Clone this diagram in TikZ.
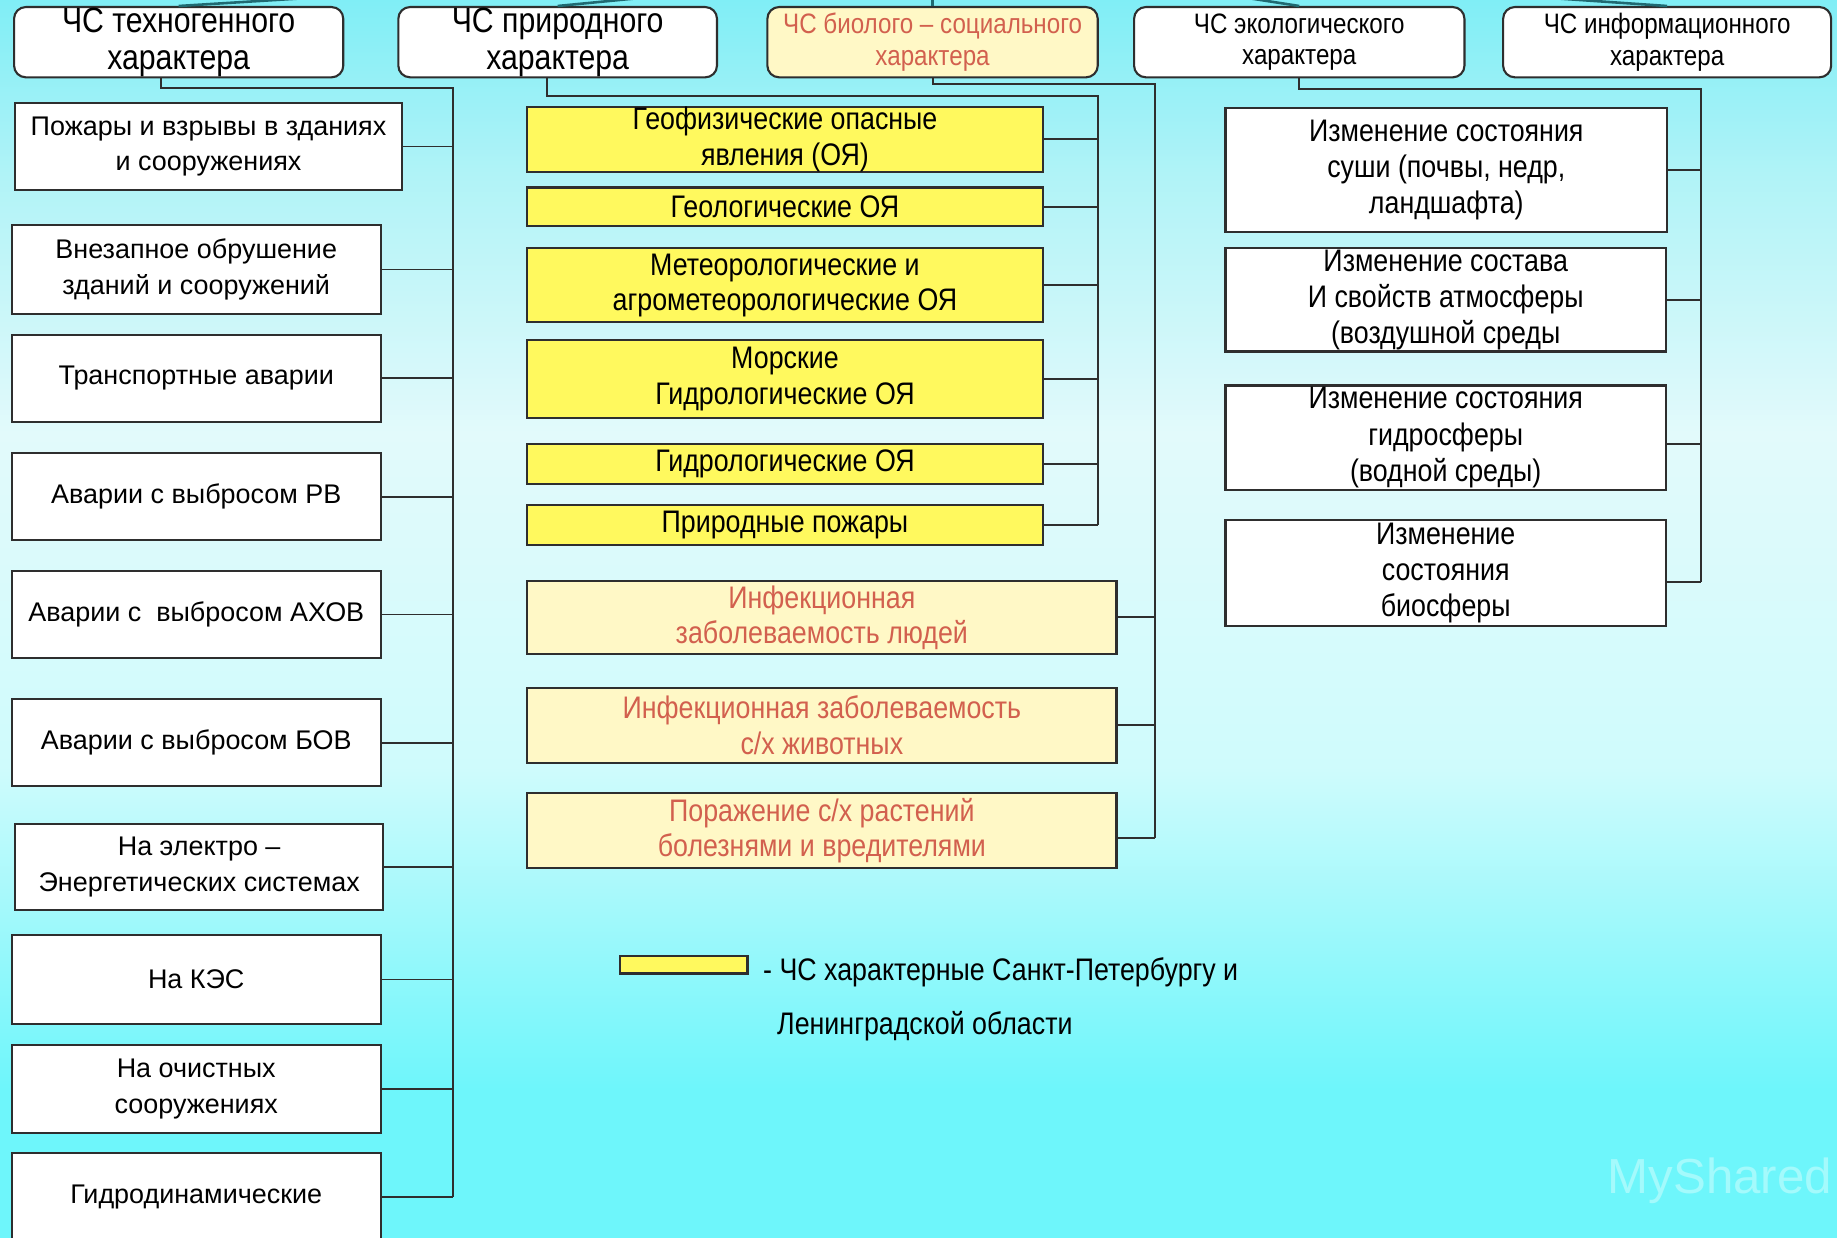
\documentclass[tikz,border=0pt]{standalone}
\usepackage{fontspec}
\setmainfont{Liberation Sans}
\newfontfamily\nf[FakeStretch=0.86]{Liberation Sans}
\definecolor{bord}{HTML}{2E2E2E}
\definecolor{yel}{HTML}{FFF95E}
\definecolor{lyel}{HTML}{FFF8C6}
\definecolor{redtxt}{HTML}{D2604E}
\definecolor{upline}{HTML}{1F6A72}
\definecolor{bgtop}{HTML}{80EEF6}
\definecolor{bgtopb}{HTML}{B0F3F7}
\definecolor{bgmid}{HTML}{E2FAFB}
\definecolor{bgmidb}{HTML}{CFFBFC}
\definecolor{bgbotb}{HTML}{92F8FB}
\definecolor{bgbot}{HTML}{6EF6FB}
\definecolor{wmark}{HTML}{A4FAFC}
\pgfdeclareverticalshading{bgsh}{100bp}{color(0bp)=(bgbot); color(25bp)=(bgbot); color(31bp)=(bgbot); color(36bp)=(bgbotb); color(44bp)=(bgmidb); color(57.5bp)=(bgmid); color(68bp)=(bgtopb); color(75bp)=(bgtop); color(100bp)=(bgtop)}
\newcommand{\ftbig}{\nf\fontsize{15}{16}\selectfont}
\newcommand{\ftsmall}{\nf\fontsize{12}{13.5}\selectfont}
\newcommand{\ftleft}{\fontsize{11.5}{15}\selectfont}
\newcommand{\ftmid}{\nf\fontsize{13.3}{15}\selectfont}
\newcommand{\ftright}{\nf\fontsize{13.3}{15.5}\selectfont}
\tikzset{
  box/.style={draw=bord, line width=0.9pt, inner sep=0pt, align=center, fill=white},
  topbox/.style={box, rounded corners=5pt},
  lbox/.style={box, font=\ftleft},
  ybox/.style={box, fill=yel, font=\ftmid},
  bbox/.style={box, fill=lyel, text=redtxt, font=\ftmid},
  rbox/.style={box, font=\ftright},
  conn/.style={draw=bord, line width=0.8pt},
  upl/.style={draw=upline, line width=1.1pt}
}
\begin{document}
\begin{tikzpicture}[x=0.5pt,y=-0.5pt]
\useasboundingbox (0,0) rectangle (1568,1056);
\begin{scope}
\clip (0,0) rectangle (1568,1056);
\shade[shading=bgsh] (0,0) rectangle (1568,1056);
\node[font=\fontsize{21}{24}\selectfont, text=wmark, anchor=west, inner sep=0pt] (wm) at (1372,1008) {MyShared};

% top boxes
\node[topbox, minimum width=140.5pt, minimum height=30pt, font=\ftbig] (t1) at (152.5,36) {ЧС техногенного\\характера};
\node[topbox, minimum width=136pt, minimum height=30pt, font=\ftbig] (t2) at (476,36) {ЧС природного\\характера};
\node[topbox, minimum width=141pt, minimum height=30pt, font=\ftsmall, fill=lyel, text=redtxt] (t3) at (796,36) {ЧС биолого – социального\\характера};
\node[topbox, minimum width=141pt, minimum height=30pt, font=\ftsmall] (t4) at (1109,36) {ЧС экологического\\характера};
\node[topbox, minimum width=140pt, minimum height=30pt, font=\ftsmall] (t5) at (1423,36) {ЧС информационного\\характера};

\coordinate (u1) at (300,-4);
\coordinate (u2) at (570,-4);
\coordinate (u3) at (796,-10);
\coordinate (u4) at (1050,-4);
\coordinate (u5) at (1290,-4);
\draw[upl] (t1.north) -- (u1);
\draw[upl] (t2.north) -- (u2);
\draw[upl] (t3.north) -- (u3);
\draw[upl] (t4.north) -- (u4);
\draw[upl] (t5.north) -- (u5);

% left column
\node[lbox, minimum width=165pt, minimum height=37pt] (L1) at (178,125) {Пожары и взрывы в зданиях\\и сооружениях};
\node[lbox, minimum width=157.5pt, minimum height=38pt] (L2) at (167.5,230) {Внезапное обрушение\\зданий и сооружений};
\node[lbox, minimum width=157.5pt, minimum height=37pt] (L3) at (167.5,323) {Транспортные аварии};
\node[lbox, minimum width=157.5pt, minimum height=37pt] (L4) at (167.5,424) {Аварии с выбросом РВ};
\node[lbox, minimum width=157.5pt, minimum height=37.5pt] (L5) at (167.5,524.5) {Аварии с\ \ выбросом АХОВ};
\node[lbox, minimum width=157.5pt, minimum height=37pt] (L6) at (167.5,634) {Аварии с выбросом БОВ};
\node[lbox, minimum width=157pt, minimum height=37pt] (L7) at (170,740) {На электро –\\Энергетических системах};
\node[lbox, minimum width=157.5pt, minimum height=38pt] (L8) at (167.5,836) {На КЭС};
\node[lbox, minimum width=157.5pt, minimum height=37.5pt] (L9) at (167.5,929.5) {На очистных\\сооружениях};
\node[lbox, minimum width=157.5pt, minimum height=38pt] (L10) at (167.5,1022) {Гидродинамические};

% middle yellow column
\node[ybox, minimum width=220pt, minimum height=28pt] (M1) at (670,119) {Геофизические опасные\\явления (ОЯ)};
\node[ybox, minimum width=220pt, minimum height=16.5pt] (M2) at (670,176.5) {Геологические ОЯ};
\node[ybox, minimum width=220pt, minimum height=31.5pt] (M3) at (670,243.5) {Метеорологические и\\агрометеорологические ОЯ};
\node[ybox, minimum width=220pt, minimum height=33.5pt] (M4) at (670,323.5) {Морские\\Гидрологические ОЯ};
\node[ybox, minimum width=220pt, minimum height=17pt] (M5) at (670,396) {Гидрологические ОЯ};
\node[ybox, minimum width=220pt, minimum height=17pt] (M6) at (670,448) {Природные пожары};

% bio column
\node[bbox, minimum width=251.5pt, minimum height=31pt] (B1) at (701.5,527) {Инфекционная\\заболеваемость людей};
\node[bbox, minimum width=251.5pt, minimum height=32pt] (B2) at (701.5,619) {Инфекционная заболеваемость\\с/х животных};
\node[bbox, minimum width=251.5pt, minimum height=32pt] (B3) at (701.5,709) {Поражение с/х растений\\болезнями и вредителями};

% right column
\node[rbox, minimum width=188.5pt, minimum height=53pt] (R1) at (1234.5,145) {Изменение состояния\\суши (почвы, недр,\\ландшафта)};
\node[rbox, minimum width=188pt, minimum height=44pt] (R2) at (1234,256) {Изменение состава\\И свойств атмосферы\\(воздушной среды};
\node[rbox, minimum width=188pt, minimum height=44.5pt] (R3) at (1234,373.5) {Изменение состояния\\гидросферы\\(водной среды)};
\node[rbox, minimum width=188pt, minimum height=45pt] (R4) at (1234,489) {Изменение\\состояния\\биосферы};

% connectors
\coordinate (k1) at (387,75);
\draw[conn] ([xshift=-7.5pt]t1.south) |- (k1) -- (k1 |- L10.east);
\foreach \n in {L1,L2,L3,L4,L5,L6,L7,L8,L9,L10} \draw[conn] (\n.east) -- (\n.east -| k1);

\coordinate (k2) at (937,82);
\draw[conn] ([xshift=-4.5pt]t2.south) |- (k2) -- (k2 |- M6.east);
\foreach \n in {M1,M2,M3,M4,M5,M6} \draw[conn] (\n.east) -- (\n.east -| k2);

\coordinate (k3) at (986,72);
\draw[conn] (t3.south) |- (k3) -- ([yshift=-3pt]k3 |- B3.east);
\draw[conn] (B1.east) -- (B1.east -| k3);
\draw[conn] (B2.east) -- (B2.east -| k3);
\draw[conn] ([yshift=-3pt]B3.east) -- ([yshift=-3pt]B3.east -| k3);

\coordinate (k4) at (1452,76);
\draw[conn] (t4.south) |- (k4) -- ([yshift=-4pt]k4 |- R4.east);
\draw[conn] (R1.east) -- (R1.east -| k4);
\draw[conn] (R2.east) -- (R2.east -| k4);
\draw[conn] ([yshift=-2.75pt]R3.east) -- ([yshift=-2.75pt]R3.east -| k4);
\draw[conn] ([yshift=-4pt]R4.east) -- ([yshift=-4pt]R4.east -| k4);

% legend
\node[draw=bord, fill=yel, line width=1pt, inner sep=0pt, minimum width=54.5pt, minimum height=7.5pt] (lgb) at (583.5,823.5) {};
\node[anchor=west, inner sep=0pt, font=\ftmid] (lg1) at (651,830) {- ЧС характерные Санкт-Петербургу и};
\node[anchor=west, inner sep=0pt, font=\ftmid] (lg2) at (663,876) {Ленинградской области};
\end{scope}
\end{tikzpicture}
\end{document}
